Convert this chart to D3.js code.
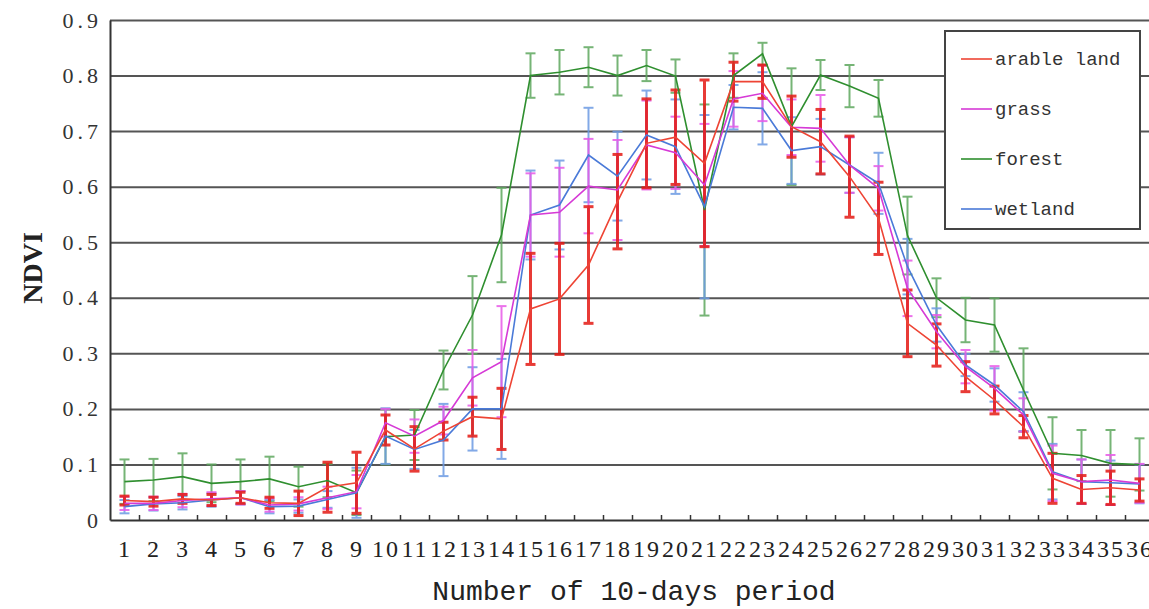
<!DOCTYPE html>
<html lang="en">
<head>
<meta charset="utf-8">
<title>NDVI by land type</title>
<script src="https://cdn.jsdelivr.net/npm/d3@7"></script>
<style>
  body { margin: 0; background: #fff; }
  svg { display: block; }
  .grid line { stroke: #555; stroke-width: 2px; }
  .grid path { display: none; }
  .line { fill: none; stroke-width: 1.6px; }
</style>
</head>
<body>
<div id="chart"></div>
<script>
// 10-day periods of the year
var periods = [1,2,3,4,5,6,7,8,9,10,11,12,13,14,15,16,17,18,19,20,21,22,23,24,25,26,27,28,29,30,31,32,33,34,35,36];
var yTicks = [0,0.1,0.2,0.3,0.4,0.5,0.6,0.7,0.8,0.9];

// mean NDVI and standard deviation per land type
var arable = [0.035,0.033,0.038,0.036,0.040,0.031,0.030,0.059,0.067,0.162,0.128,0.160,0.186,0.182,0.380,0.398,0.459,0.573,0.678,0.689,0.642,0.789,0.789,0.708,0.681,0.618,0.543,0.354,0.315,0.258,0.216,0.168,0.075,0.055,0.058,0.054];
var arableSd = [0.008,0.008,0.008,0.010,0.010,0.010,0.022,0.045,0.055,0.027,0.040,0.016,0.035,0.055,0.100,0.100,0.105,0.085,0.080,0.085,0.150,0.035,0.030,0.055,0.058,0.073,0.065,0.060,0.038,0.027,0.025,0.020,0.045,0.025,0.030,0.020];

var grass = [0.030,0.030,0.035,0.038,0.040,0.027,0.029,0.040,0.051,0.175,0.151,0.179,0.256,0.285,0.549,0.554,0.601,0.594,0.675,0.661,0.603,0.758,0.768,0.707,0.705,0.639,0.597,0.417,0.339,0.276,0.237,0.189,0.084,0.069,0.072,0.066];
var grassSd = [0.012,0.012,0.012,0.012,0.012,0.012,0.012,0.020,0.030,0.025,0.030,0.025,0.050,0.100,0.075,0.080,0.085,0.090,0.080,0.065,0.110,0.050,0.050,0.050,0.060,0.050,0.040,0.050,0.030,0.030,0.040,0.030,0.050,0.040,0.045,0.035];

var forest = [0.069,0.072,0.078,0.066,0.069,0.074,0.060,0.071,0.049,0.150,0.153,0.270,0.369,0.513,0.800,0.806,0.815,0.800,0.818,0.799,0.558,0.800,0.839,0.708,0.801,0.781,0.759,0.512,0.400,0.360,0.351,0.234,0.120,0.116,0.102,0.100];
var forestSd = [0.040,0.038,0.042,0.034,0.040,0.040,0.036,0.030,0.040,0.050,0.045,0.035,0.070,0.085,0.040,0.040,0.036,0.036,0.028,0.030,0.190,0.040,0.020,0.105,0.027,0.038,0.033,0.070,0.035,0.040,0.048,0.075,0.065,0.046,0.060,0.047];

var wetland = [0.024,0.029,0.031,0.036,0.040,0.024,0.025,0.037,0.049,0.151,0.127,0.144,0.200,0.200,0.549,0.567,0.657,0.619,0.693,0.672,0.564,0.743,0.741,0.665,0.672,0.639,0.606,0.456,0.351,0.279,0.243,0.195,0.087,0.069,0.067,0.065];
var wetlandSd = [0.012,0.012,0.012,0.012,0.012,0.012,0.012,0.015,0.045,0.050,0.035,0.065,0.075,0.090,0.080,0.080,0.085,0.080,0.080,0.085,0.165,0.040,0.065,0.060,0.050,0.050,0.055,0.050,0.030,0.020,0.030,0.035,0.050,0.040,0.040,0.035];

var series = [
  { name: "forest",      values: forest,  sd: forestSd,  line: "#2f8f2f", bar: "#5fa85f", barWidth: 2 },
  { name: "wetland",     values: wetland, sd: wetlandSd, line: "#4a7ad8", bar: "#6d9be3", barWidth: 2 },
  { name: "grass",       values: grass,   sd: grassSd,   line: "#d63ad6", bar: "#e85ae8", barWidth: 2 },
  { name: "arable land", values: arable,  sd: arableSd,  line: "#ee4434", bar: "#e41a14", barWidth: 3 }
];
var legendOrder = ["arable land", "grass", "forest", "wetland"];

var width = 1149, height = 609;
var margin = { top: 20, left: 110, bottom: 89 };
var plotBottom = height - margin.bottom; // 520

var svg = d3.select("#chart").append("svg")
  .attr("width", width)
  .attr("height", height);

// x: each period is a band of 29px, the last one runs off the right edge
var x = d3.scaleLinear().domain([0.5, 36.5]).range([margin.left, margin.left + 36 * 29]);
var y = d3.scaleLinear().domain([0, 0.9]).range([plotBottom, margin.top]);

// horizontal gridlines
svg.append("g")
  .attr("class", "grid")
  .attr("transform", "translate(" + margin.left + ",0)")
  .call(d3.axisLeft(y).tickValues(yTicks.slice(1)).tickSize(-(width - margin.left)).tickFormat(""));

// error bars
var cap = 5;
series.forEach(function (s) {
  var g = svg.append("g")
    .attr("stroke", s.bar)
    .attr("stroke-width", s.barWidth)
    .attr("opacity", 0.85);
  periods.forEach(function (p, i) {
    var cx = x(p), hi = y(s.values[i] + s.sd[i]), lo = y(Math.max(0, s.values[i] - s.sd[i]));
    g.append("line").attr("x1", cx).attr("x2", cx).attr("y1", hi).attr("y2", lo);
    g.append("line").attr("x1", cx - cap).attr("x2", cx + cap).attr("y1", hi).attr("y2", hi);
    g.append("line").attr("x1", cx - cap).attr("x2", cx + cap).attr("y1", lo).attr("y2", lo);
  });
});

// mean lines
var line = d3.line()
  .x(function (d, i) { return x(periods[i]); })
  .y(function (d) { return y(d); });

series.forEach(function (s) {
  svg.append("path")
    .datum(s.values)
    .attr("class", "line")
    .attr("stroke", s.line)
    .attr("d", line);
});

// y axis
var yAxis = svg.append("g")
  .attr("transform", "translate(" + margin.left + ",0)")
  .call(d3.axisLeft(y).tickValues(yTicks).tickSize(0).tickPadding(12)
    .tickFormat(function (d) { return d === 0 ? "0" : d3.format(".1f")(d); }));
yAxis.select(".domain").attr("stroke", "#333").attr("stroke-width", 2);
yAxis.selectAll("text")
  .attr("font-family", "'Liberation Serif', serif")
  .attr("font-size", 22)
  .attr("letter-spacing", "4px")
  .attr("fill", "#333")
  .attr("dx", 4);

// x axis: labels under each period, small inner ticks between periods
var xAxis = svg.append("g")
  .attr("transform", "translate(0," + plotBottom + ")")
  .call(d3.axisBottom(x).tickValues(periods).tickSize(0).tickPadding(20).tickFormat(d3.format("d")));
xAxis.select(".domain").attr("stroke", "#333").attr("stroke-width", 2);
xAxis.selectAll("text")
  .attr("font-family", "'Liberation Serif', serif")
  .attr("font-size", 24)
  .attr("letter-spacing", "2px")
  .attr("fill", "#222");

var inner = svg.append("g")
  .attr("transform", "translate(0," + plotBottom + ")")
  .call(d3.axisBottom(x).tickValues(periods.slice(0, 35).map(function (p) { return p + 0.5; })).tickSize(-5).tickFormat(""));
inner.select(".domain").remove();
inner.selectAll("line").attr("stroke", "#333").attr("stroke-width", 1.5);

// axis titles
svg.append("text")
  .attr("transform", "translate(42,268) rotate(-90)")
  .attr("text-anchor", "middle")
  .attr("font-family", "'Liberation Serif', serif")
  .attr("font-weight", "bold")
  .attr("font-size", 28)
  .attr("fill", "#222")
  .text("NDVI");

svg.append("text")
  .attr("x", 634)
  .attr("y", 600)
  .attr("text-anchor", "middle")
  .attr("font-family", "'Liberation Mono', monospace")
  .attr("font-size", 28)
  .attr("fill", "#222")
  .text("Number of 10-days period");

// legend
var legend = svg.append("g").attr("transform", "translate(945,31)");
legend.append("rect")
  .attr("width", 195).attr("height", 198)
  .attr("fill", "#fff").attr("stroke", "#444").attr("stroke-width", 2);
legendOrder.forEach(function (name, i) {
  var s = series.find(function (d) { return d.name === name; });
  var ly = 28 + i * 50;
  legend.append("line")
    .attr("x1", 16).attr("x2", 47).attr("y1", ly).attr("y2", ly)
    .attr("stroke", s.line).attr("stroke-width", 1.6);
  legend.append("text")
    .attr("x", 50).attr("y", ly + 6)
    .attr("font-family", "'Liberation Mono', monospace")
    .attr("font-size", 19)
    .attr("fill", "#333")
    .text(name);
});
</script>
</body>
</html>
